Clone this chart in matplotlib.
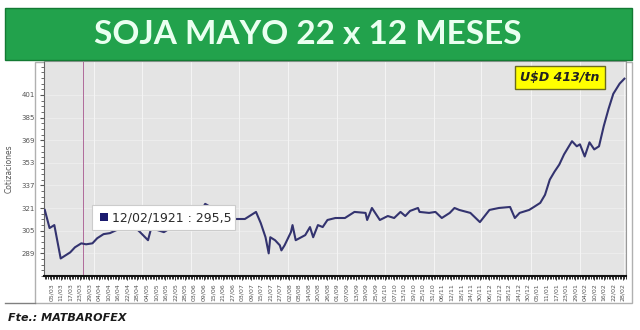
import numpy as np
import pandas as pd
import matplotlib
matplotlib.use('Agg')
import matplotlib.pyplot as plt
import matplotlib.dates as mdates
from matplotlib.patches import Rectangle
from matplotlib.lines import Line2D

# data: days from start date and price (U$D/tn)
start = pd.Timestamp('2021-03-01')
dias = [0, 3, 6, 10, 16, 19, 23, 26, 30, 33, 37, 41, 45, 48, 54, 60, 65, 67,
        75, 82, 92, 98, 101, 104, 107, 117, 126, 133, 136, 139, 141, 142, 145,
        148, 149, 151, 155, 156, 158, 164, 167, 169, 172, 175, 178, 183, 189,
        195, 202, 203, 206, 211, 216, 220, 224, 227, 230, 235, 236, 242, 246,
        250, 255, 258, 261, 268, 274, 280, 286, 293, 296, 299, 305, 308, 312,
        315, 318, 321, 324, 327, 332, 335, 337, 340, 343, 346, 349, 352, 355,
        358, 362, 365]
precios = [319.7, 306.9, 309.0, 285.4, 289.7, 293.3, 296.1, 295.4, 296.1,
           299.7, 302.6, 303.3, 305.4, 306.1, 310.5, 304.0, 298.3, 306.9,
           304.0, 309.0, 312.0, 318.0, 324.0, 322.0, 318.0, 313.3, 313.3,
           318.3, 310.4, 300.4, 289.0, 300.4, 298.3, 294.7, 291.1, 294.7,
           304.0, 309.0, 298.3, 301.9, 307.6, 300.4, 309.0, 307.6, 312.6,
           314.0, 314.0, 318.3, 317.6, 312.6, 321.1, 312.6, 315.4, 314.0,
           318.3, 315.4, 319.0, 321.1, 318.3, 317.6, 318.3, 314.0, 317.6,
           321.1, 319.7, 317.6, 311.1, 319.7, 321.1, 321.8, 314.0, 317.6,
           319.7, 321.8, 324.7, 330.4, 341.1, 346.8, 351.8, 359.0, 368.3,
           364.7, 366.1, 357.5, 367.5, 362.5, 364.7, 379.0, 391.1, 401.8,
           409.0, 412.5]
fechas = start + pd.to_timedelta(dias, unit='D')

yticks = [289, 305, 321, 337, 353, 369, 385, 401]
titulo = 'SOJA MAYO 22 x 12 MESES'
etiqueta = 'U$D 413/tn'
tooltip = '12/02/1921 : 295,5'
tooltip_dia = 24
fuente = 'Fte.: MATBAROFEX'

fig = plt.figure(figsize=(6.4, 3.3), dpi=100)
W, H = 640., 330.


def fx(px):
    return px / W


def fy(py):
    return 1 - py / H


# outer white panel with grey frame
fig.patches.append(Rectangle((fx(35), fy(303)), fx(632) - fx(35), fy(62) - fy(303),
                             transform=fig.transFigure, facecolor='white',
                             edgecolor='#b0b0b0', lw=1, zorder=-5))
fig.lines.append(Line2D([fx(5), fx(35)], [fy(303), fy(303)],
                        transform=fig.transFigure, color='#808080', lw=1))

ax = fig.add_axes([fx(44), fy(276), fx(626) - fx(44), fy(61) - fy(276)])
ax.set_facecolor('#e4e4e4')
ax.plot(fechas, precios, color='#33336f', lw=1.5, zorder=3)
ax.axvline(start + pd.Timedelta(days=tooltip_dia), color='#b06a9a', lw=0.7, zorder=2)

ax.set_xlim(start - pd.Timedelta(days=0.5), start + pd.Timedelta(days=366))
ax.set_ylim(273, 425)
ax.set_yticks(yticks)
ax.set_yticks(np.arange(273, 425, 4), minor=True)
ax.tick_params(axis='y', labelsize=5, colors='#555555', length=3)
ax.tick_params(axis='y', which='minor', length=2, color='#555555')

ax.xaxis.set_major_locator(mdates.DayLocator(interval=6))
ax.xaxis.set_major_formatter(mdates.DateFormatter('%d/%m'))
ax.xaxis.set_minor_locator(mdates.DayLocator())
ax.tick_params(axis='x', labelsize=4.5, colors='#555555', rotation=90,
               length=3, pad=2)
ax.tick_params(axis='x', which='minor', length=2.5, color='#111111', width=0.6)
ax.tick_params(axis='x', which='major', color='#111111', width=0.6)

# faint gridlines
for m in pd.date_range(start, periods=13, freq='MS')[1:]:
    ax.axvline(m, color='#f4f4f4', lw=0.8, zorder=1)
ax.grid(axis='y', which='major', color='#eeeeee', lw=0.6, zorder=1)
ax.set_axisbelow(True)

for s in ['top', 'right']:
    ax.spines[s].set_color('#999999')
ax.spines['left'].set_color('#666666')
ax.spines['bottom'].set_color('#111111')
ax.spines['bottom'].set_linewidth(1.5)

ax.set_ylabel('Cotizaciones', fontsize=5.5, color='#555555', labelpad=6)

# tooltip box with navy swatch
ax.add_patch(Rectangle((0.0825, 0.214), 0.2455, 0.116, transform=ax.transAxes,
                       facecolor='white', edgecolor='#cccccc', lw=0.8, zorder=4))
ax.add_patch(Rectangle((0.096, 0.254), 0.0137, 0.037, transform=ax.transAxes,
                       facecolor='#1a1a6e', edgecolor='none', zorder=5))
ax.text(0.117, 0.272, tooltip, transform=ax.transAxes, fontsize=9,
        color='#2a2a2a', va='center', zorder=5)

# yellow price label
fig.text(fx(560), fy(77), etiqueta, ha='center', va='center', fontsize=9,
         fontweight='bold', style='italic', color='#222222',
         bbox=dict(boxstyle='square,pad=0.4', fc='#ffff00', ec='#6b6b20', lw=1))

# green title banner
fig.patches.append(Rectangle((fx(5), fy(60)), fx(632) - fx(5), fy(8) - fy(60),
                             transform=fig.transFigure, facecolor='#22a24c',
                             edgecolor='#137a33', lw=1, zorder=5))
fig.text(fx(308), fy(35), titulo, ha='center', va='center', fontsize=24,
         fontweight='bold', color='#eafff0', family='Lato', zorder=6)

fig.text(fx(8), fy(318), fuente, ha='left', va='center', fontsize=8,
         fontweight='bold', style='italic', color='#1a1a1a')

fig.savefig('out.png', dpi=100)
